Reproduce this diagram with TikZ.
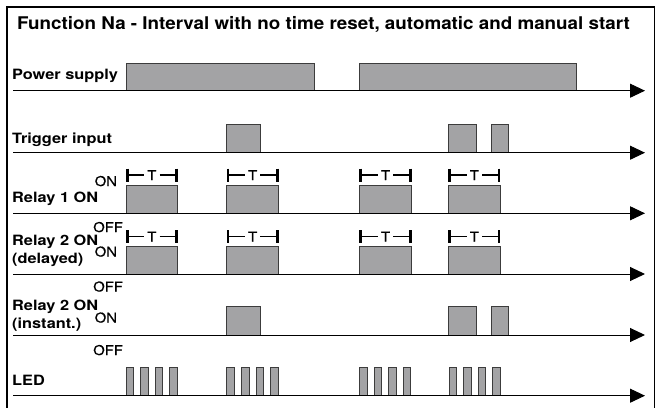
\documentclass[tikz,border=0pt]{standalone}
\usepackage{fontspec}
\setmainfont{TeX Gyre Heros}
\newfontfamily\lblfont[FakeStretch=1.15]{TeX Gyre Heros}
\newfontfamily\stfont[FakeStretch=1.1,FakeBold=0.6]{TeX Gyre Heros}
\newfontfamily\ttlfont[FakeStretch=1.075]{TeX Gyre Heros}
\usetikzlibrary{arrows.meta}
\definecolor{boxgray}{RGB}{163,163,165}
\definecolor{edgegray}{RGB}{60,60,60}
\tikzset{
  pulse/.style={fill=boxgray, draw=edgegray, line width=0.7pt},
  axisline/.style={line width=1pt, -{Triangle[length=15pt,width=14pt]}},
  boldlbl/.style={anchor=base west, inner sep=0pt, font=\lblfont\fontsize{14.2}{16}\selectfont\bfseries},
  titlelbl/.style={anchor=base west, inner sep=0pt, font=\ttlfont\fontsize{17.5}{20}\selectfont\bfseries},
  statelbl/.style={anchor=base west, inner sep=0pt, font=\stfont\fontsize{13.5}{15}\selectfont},
  tlbl/.style={anchor=base, inner sep=3pt, font=\stfont\fontsize{13.5}{15}\selectfont},
  tmark/.style={line width=1.3pt},
  tbar/.style={line width=2.6pt},
  frameline/.style={line width=1.3pt},
}
\begin{document}
\begin{tikzpicture}[x=1pt,y=-1pt]
\useasboundingbox (0,0) rectangle (656,407);
% frame
\draw[frameline] (7,408) -- (7,7) -- (654.5,7) -- (654.5,408);
% title
\node[titlelbl] (title) at (17,29.3) {Function Na - Interval with no time reset, automatic and manual start};
% row labels
\node[boldlbl] (lpow) at (12,79.3) {Power supply};
\node[boldlbl] (ltrig) at (12,143) {Trigger input};
\node[boldlbl] (lr1) at (12,202) {Relay 1 ON};
\node[boldlbl] (lr2a) at (12,245) {Relay 2 ON};
\node[boldlbl] (lr2b) at (12,263) {(delayed)};
\node[boldlbl] (lr3a) at (12,310) {Relay 2 ON};
\node[boldlbl] (lr3b) at (12,328) {(instant.)};
\node[boldlbl] (lled) at (12,385) {LED};
% state labels
\node[statelbl] (on1) at (94.5,186) {ON};
\node[statelbl] (off2) at (93,232) {OFF};
\node[statelbl] (on2) at (94.5,256.5) {ON};
\node[statelbl] (off3) at (93,291.5) {OFF};
\node[statelbl] (on3) at (94.5,322.5) {ON};
\node[statelbl] (off4) at (93,355) {OFF};
% power supply
\draw[pulse] (126,90.7) rectangle (314,63);
\draw[pulse] (359.3,90.7) rectangle (576,63);
% trigger input and relay 2 instant
\foreach \a/\b in {226.7/260.7, 448.3/476.7, 491.3/508.3} {
  \draw[pulse] (\a,152.7) rectangle (\b,124);
  \draw[pulse] (\a,335) rectangle (\b,306.7);
}
% relay 1 and relay 2 delayed with T markers
\foreach \a/\b [count=\i] in {126/177.7, 226.7/278.7, 359.3/411.7, 448.3/500.3} {
  \draw[pulse] (\a,213.3) rectangle (\b,185);
  \draw[pulse] (\a,274) rectangle (\b,246.7);
  \foreach \y/\r in {175/a, 236.5/b} {
    \node[tlbl] (T\r\i) at ({(\a+\b)/2},{\y+5}) {T};
    \coordinate (TL\r\i) at ({\a+1.3},\y);
    \coordinate (TR\r\i) at ({\b-1.3},\y);
    \draw[tmark] (TL\r\i) -- (TL\r\i -| T\r\i.west);
    \draw[tmark] (TR\r\i -| T\r\i.east) -- (TR\r\i);
    \draw[tbar] ([yshift=6.5pt]TL\r\i) -- ([yshift=-6.5pt]TL\r\i);
    \draw[tbar] ([yshift=6.5pt]TR\r\i) -- ([yshift=-6.5pt]TR\r\i);
  }
}
% LED pulses
\foreach \s in {126, 226.7, 359.3, 449} {
  \foreach \k in {0,1,2,3} {
    \draw[pulse] ({\s+14.6*\k},395.7) rectangle ({\s+14.6*\k+7.6},367.7);
  }
}
% axes
\foreach \y/\n in {90.7/a, 152.7/b, 213.3/c, 274/d, 335/e, 395.7/f} {
  \coordinate (ax\n) at (13,\y);
  \coordinate (ae\n) at (645,\y);
  \draw[axisline] (ax\n) -- (ae\n);
}
\end{tikzpicture}
\end{document}
